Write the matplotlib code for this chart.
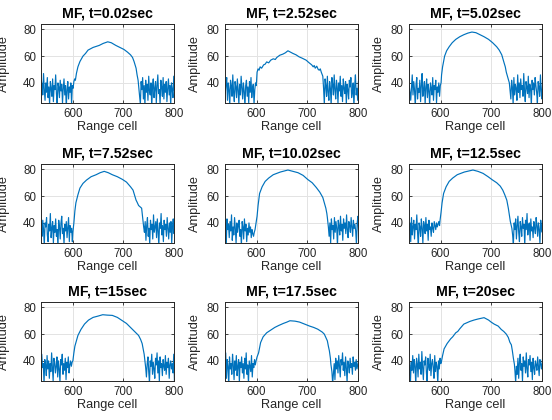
import numpy as np
import matplotlib
matplotlib.use("Agg")
import matplotlib.pyplot as plt

plt.rcParams['font.family'] = ['Liberation Sans', 'DejaVu Sans']

times = ["0.02", "2.52", "5.02", "7.52", "10.02", "12.5", "15", "17.5", "20"]

# main lobe (range cell, amplitude)
lobe_x = [
    [605, 607, 610, 614, 620, 625, 630, 640, 652, 660, 669, 676, 685, 693, 701, 708, 714, 718, 721, 725, 727, 729],
    [601, 603, 605, 607, 610, 614, 617, 620, 624, 628, 633, 637, 640, 646, 652, 657, 662, 667, 672, 678, 684, 690, 698, 704, 709, 712, 714, 716, 719, 722, 724, 726, 728, 731],
    [601, 602, 604, 606, 608, 612, 617, 623, 630, 638, 646, 654, 662, 670, 678, 686, 695, 703, 711, 716, 721, 724, 726, 728, 730, 733, 736],
    [599, 600, 602, 604, 606, 610, 614, 620, 627, 636, 646, 654, 662, 670, 678, 688, 698, 706, 714, 719, 723, 725, 727, 730, 733, 736, 738, 740],
    [597, 599, 601, 603, 606, 611, 617, 624, 633, 647, 662, 672, 682, 692, 701, 710, 718, 725, 731, 734, 737, 739, 740, 742],
    [598, 599, 601, 603, 606, 611, 617, 624, 633, 647, 664, 674, 684, 694, 703, 711, 718, 723, 727, 731, 734, 736, 738, 741],
    [600, 602, 604, 607, 610, 616, 623, 631, 640, 650, 659, 668, 678, 688, 698, 706, 714, 722, 730, 734, 737, 739, 741, 744],
    [599, 601, 604, 606, 608, 613, 620, 628, 636, 644, 653, 660, 666, 676, 685, 695, 705, 713, 721, 726, 730, 734, 737, 740, 742, 744, 746, 747, 749],
    [602, 604, 607, 610, 613, 617, 620, 624, 630, 634, 638, 646, 652, 658, 666, 674, 682, 686, 690, 695, 700, 706, 714, 720, 725, 730, 734, 737, 740, 742, 744, 746, 747],
]
lobe_y = [
    [42, 47, 52, 56, 60, 62, 64.5, 66.5, 68, 69.5, 70.7, 70, 68, 66.5, 65, 63, 61, 59, 56, 51, 46, 42],
    [48, 50.5, 49.5, 52, 51, 53.5, 54, 55.7, 55, 57, 58, 57.5, 59, 60.7, 61.5, 62.5, 64, 63, 62, 61, 59.5, 58.5, 57, 55, 53.5, 52, 53, 51, 52.5, 50, 49.5, 50.5, 48, 45],
    [40, 46, 52, 56, 60, 64, 67, 70, 72.5, 74.5, 76, 77.2, 78, 77.5, 76, 74.5, 72.5, 70, 67, 64.5, 61, 57, 54.5, 52, 48, 44, 40],
    [26, 33, 40, 49, 55, 61, 66, 69.5, 72, 74.5, 76, 77.5, 78.5, 77.5, 76, 74.5, 72.5, 70.5, 67, 64.5, 59.5, 57, 55.5, 53, 52, 51, 44, 37],
    [35, 40, 45, 53, 62, 67, 71, 73.5, 76, 78, 79.5, 78.5, 77.5, 75.5, 72.5, 70, 66.5, 63, 59, 55, 51, 47, 44, 37],
    [38, 42, 48, 55, 62, 67, 71, 73.5, 76, 78, 79.5, 78.5, 77, 74.5, 72, 70, 67.5, 64.5, 61, 57, 51, 46, 41, 36],
    [40, 46, 51, 55, 59, 63.5, 67.5, 70.5, 72.5, 73.5, 74.5, 74.2, 74, 72.5, 70, 68, 65, 62, 59, 56, 53, 49, 45, 35],
    [40, 43, 46, 50, 53.7, 58, 61, 63, 65, 66.5, 68, 69, 70, 69.7, 69, 67.5, 66, 65, 63.7, 62.5, 61.5, 60, 57.5, 55, 51, 47.5, 42, 37.5, 32],
    [40, 44, 49, 51, 53, 55, 56.5, 58, 61, 62, 64, 67.5, 68.5, 69.5, 70.5, 71.3, 72, 72.3, 71.5, 70.5, 69, 67.5, 66, 63.5, 62, 60, 57.5, 54, 52, 47.5, 42, 37.5, 33],
]

# clutter either side of the lobe, one value every 1.5 cells
# left lists end at the lobe start, right lists start after the lobe end
noise_step = 1.5
noise_left = [
    [38, 27, 42, 33, 24, 40, 36, 29, 43, 31, 22, 39, 35, 41, 26, 37, 44, 30, 34, 23, 41, 38, 28, 45,
     33, 36, 25, 42, 39, 31, 47, 35, 27, 40, 33, 44, 29, 37, 24, 41, 36, 30, 43, 26, 38, 35, 46, 32,
     23, 40, 37, 29, 42, 34, 39, 25, 36, 43, 31, 38, 22, 35, 41, 28, 37, 33, 40, 24, 38, 36, 41, 43],
    [33, 44, 27, 38, 41, 23, 46, 35, 30, 42, 37, 26, 45, 31, 39, 24, 43, 36, 28, 47, 34, 40, 22, 38,
     33, 29, 37, 41, 25, 36, 32, 39, 44, 27, 40, 35, 23, 42, 38, 30, 46, 33, 26, 41, 37, 29, 43, 35,
     24, 39, 31, 45, 36, 28, 40, 34, 22, 38, 42, 30, 37, 25, 41, 33, 44, 29, 36, 39, 24, 35, 40, 38],
    [30, 39, 24, 41, 35, 28, 43, 33, 40, 23, 37, 42, 29, 36, 45, 31, 40, 26, 47, 35, 38, 29, 44, 32,
     24, 40, 36, 30, 42, 25, 38, 33, 27, 37, 46, 31, 41, 35, 22, 39, 44, 28, 36, 33, 42, 26, 38, 47,
     30, 35, 41, 24, 37, 43, 29, 39, 34, 23, 40, 36, 31, 44, 27, 38, 35, 42, 25, 37, 33, 40, 30, 38],
    [27, 40, 34, 43, 24, 38, 31, 42, 36, 22, 41, 33, 39, 28, 44, 35, 30, 37, 43, 26, 39, 33, 46, 29,
     37, 41, 32, 24, 38, 45, 28, 36, 30, 42, 35, 23, 40, 37, 44, 31, 26, 39, 34, 47, 29, 36, 41, 25,
     38, 33, 43, 30, 35, 22, 42, 37, 28, 40, 45, 32, 36, 24, 39, 34, 41, 29, 37, 44, 26, 38, 33, 36],
    [40, 31, 44, 36, 23, 42, 38, 33, 45, 29, 41, 35, 39, 43, 27, 37, 42, 34, 40, 24, 38, 31, 36, 42,
     33, 26, 37, 30, 45, 28, 36, 32, 38, 40, 22, 43, 35, 39, 29, 41, 34, 46, 27, 37, 31, 44, 36, 25,
     40, 33, 38, 42, 30, 35, 23, 41, 37, 28, 43, 34, 39, 26, 36, 31, 40, 33, 37, 29, 35, 32, 30, 33],
    [41, 35, 27, 43, 37, 32, 44, 29, 40, 36, 23, 42, 38, 34, 45, 30, 39, 27, 41, 36, 24, 40, 33, 43,
     37, 29, 41, 35, 38, 42, 36, 39, 34, 40, 26, 44, 31, 37, 42, 28, 39, 35, 46, 33, 22, 40, 37, 30,
     43, 36, 25, 41, 38, 32, 44, 34, 39, 27, 42, 35, 37, 30, 40, 36, 33, 41, 38, 35, 40, 37, 39, 41],
    [36, 42, 28, 45, 33, 39, 24, 41, 37, 30, 46, 34, 27, 40, 43, 32, 38, 22, 41, 35, 29, 44, 37, 31,
     39, 26, 42, 36, 33, 40, 30, 45, 35, 38, 23, 41, 37, 29, 44, 34, 40, 27, 38, 32, 46, 35, 25, 42,
     39, 31, 36, 43, 28, 40, 34, 24, 41, 37, 45, 30, 38, 33, 42, 26, 39, 35, 43, 31, 37, 40, 36, 39],
    [30, 44, 36, 24, 42, 38, 33, 45, 28, 40, 35, 23, 41, 37, 30, 44, 34, 25, 39, 42, 31, 36, 26, 43,
     37, 33, 40, 29, 38, 35, 31, 39, 46, 27, 41, 36, 22, 43, 34, 38, 30, 45, 37, 26, 40, 33, 44, 29,
     36, 41, 24, 39, 35, 43, 31, 38, 27, 42, 34, 46, 30, 37, 23, 40, 36, 32, 44, 28, 38, 35, 41, 37],
    [38, 29, 43, 35, 24, 41, 37, 31, 44, 26, 39, 34, 42, 23, 37, 40, 30, 45, 35, 27, 41, 38, 32, 46,
     36, 24, 40, 34, 43, 29, 37, 25, 39, 33, 44, 31, 41, 36, 22, 42, 38, 28, 45, 34, 39, 30, 47, 35,
     26, 40, 37, 43, 31, 24, 42, 36, 33, 45, 29, 38, 41, 35, 27, 44, 32, 39, 36, 23, 40, 34, 42, 38],
]
noise_right = [
    [36, 30, 24, 41, 35, 44, 28, 38, 23, 42, 33, 39, 27, 45, 34, 31, 40, 22, 37, 43, 29, 36, 41, 25,
     38, 46, 32, 35, 24, 42, 37, 30, 44, 28, 39, 33, 41, 26, 36, 43, 31, 38, 23, 40, 35, 29, 45, 34,
     37, 27, 42, 39, 32, 24, 41, 36, 30, 44, 33, 38, 25, 40, 35, 43, 29, 37, 31, 42, 26, 39, 34, 40],
    [36, 24, 43, 38, 30, 45, 33, 27, 41, 36, 23, 44, 39, 31, 46, 35, 28, 42, 37, 25, 40, 34, 45, 30,
     38, 26, 43, 36, 32, 41, 24, 39, 35, 28, 42, 37, 44, 29, 33, 40, 22, 38, 46, 31, 36, 27, 41, 35,
     30, 43, 37, 24, 39, 34, 45, 28, 36, 41, 32, 26, 40, 35, 44, 30, 38, 23, 42, 36, 29, 39, 33, 41],
    [34, 28, 42, 37, 24, 44, 31, 39, 36, 27, 46, 33, 40, 29, 43, 35, 38, 30, 47, 34, 26, 41, 37, 32,
     45, 29, 39, 36, 23, 42, 35, 40, 31, 44, 38, 33, 25, 41, 37, 30, 46, 34, 28, 43, 36, 39, 24, 42,
     35, 31, 45, 38, 27, 40, 33, 44, 29, 37, 41, 22, 39, 34, 43, 30, 36, 26, 42, 38, 32, 45, 35, 40],
    [33, 41, 27, 38, 44, 30, 36, 24, 42, 35, 39, 28, 46, 33, 37, 41, 29, 43, 34, 23, 40, 36, 47, 31,
     38, 26, 42, 35, 39, 30, 44, 36, 28, 40, 33, 41, 25, 37, 43, 32, 38, 22, 45, 34, 30, 41, 36, 27,
     42, 39, 33, 46, 29, 37, 24, 40, 35, 43, 31, 38, 26, 44, 34, 39, 30, 42, 36, 23, 41, 37, 32, 45],
    [30, 40, 25, 43, 35, 38, 28, 44, 33, 41, 36, 23, 42, 38, 31, 45, 34, 39, 27, 43, 36, 40, 32, 46,
     35, 29, 41, 38, 33, 44, 37, 30, 42, 36, 39, 34, 24, 40, 45, 31, 37, 28, 43, 35, 41, 26, 38, 33,
     46, 30, 39, 36, 22, 42, 34, 40, 29, 44, 37, 32, 41, 25, 38, 35, 43, 31, 36, 40, 27, 39, 34, 42],
    [31, 24, 40, 35, 43, 28, 38, 45, 33, 26, 41, 37, 30, 44, 36, 39, 23, 42, 35, 47, 31, 38, 40, 27,
     43, 34, 37, 29, 41, 36, 32, 44, 38, 30, 40, 35, 25, 42, 37, 33, 46, 29, 39, 36, 22, 41, 34, 43,
     38, 28, 45, 35, 31, 40, 37, 24, 42, 33, 39, 44, 30, 36, 41, 27, 38, 34, 43, 32, 40, 26, 37, 42],
    [28, 38, 43, 32, 24, 40, 36, 45, 30, 39, 34, 27, 42, 37, 46, 31, 40, 25, 43, 35, 38, 29, 41, 36,
     33, 44, 30, 39, 35, 42, 27, 37, 40, 34, 38, 31, 45, 23, 41, 36, 29, 43, 33, 39, 26, 44, 37, 32,
     40, 35, 28, 42, 38, 24, 46, 34, 30, 41, 36, 43, 27, 39, 33, 45, 31, 37, 22, 40, 35, 42, 29, 38],
    [23, 30, 38, 26, 42, 34, 40, 31, 44, 36, 28, 41, 37, 46, 33, 39, 29, 43, 35, 24, 40, 37, 31, 42,
     35, 38, 30, 43, 36, 39, 33, 41, 34, 37, 40, 36, 27, 44, 32, 39, 25, 42, 38, 30, 45, 35, 41, 28,
     36, 43, 33, 22, 40, 37, 46, 31, 39, 34, 42, 29, 38, 26, 44, 35, 40, 32, 37, 43, 30, 41, 36, 39],
    [24, 36, 30, 42, 27, 39, 45, 33, 38, 25, 43, 36, 40, 31, 46, 34, 28, 41, 37, 44, 32, 39, 26, 42,
     35, 30, 40, 37, 33, 43, 36, 29, 41, 38, 34, 39, 45, 23, 42, 35, 31, 44, 37, 27, 40, 33, 46, 30,
     38, 41, 25, 43, 36, 32, 39, 45, 28, 37, 42, 34, 31, 40, 35, 24, 44, 38, 30, 41, 36, 43, 33, 40],
]

xticks = [600, 700, 800]
yticks = [40, 60, 80]

col_left = [41, 224.7, 408.7]
row_top = [24, 164, 302]
ax_w, ax_h = 133, 79
W, H = 552, 420

fig = plt.figure(figsize=(W / 100, H / 100), dpi=100)
tc = "#262626"

for k in range(9):
    r, c = k // 3, k % 3
    ax = fig.add_axes([col_left[c] / W, (H - row_top[r] - ax_h) / H, ax_w / W, ax_h / H])
    lx = lobe_x[k]
    nl = noise_left[k]
    nr = noise_right[k]
    xl = [lx[0] - noise_step * (len(nl) - i) for i in range(len(nl))]
    xr = [lx[-1] + noise_step * (i + 1) for i in range(len(nr))]
    xs = np.array(xl + lx + xr)
    ys = np.array(nl + lobe_y[k] + nr)
    ax.plot(xs, ys, color="#0072BD", lw=0.85)
    ax.set_xlim(537, 800)
    ax.set_ylim(25, 84)
    ax.set_xticks(xticks)
    ax.set_yticks(yticks)
    ax.grid(True, color="#e3e3e3", lw=0.7)
    ax.set_axisbelow(True)
    ax.tick_params(direction="in", length=2.5, width=0.6, labelsize=8.3,
                   colors=tc, top=True, right=True, pad=3.5)
    for s in ax.spines.values():
        s.set_color(tc)
        s.set_linewidth(0.7)
    ax.set_title("MF, t=" + times[k] + "sec", fontsize=10.2, fontweight="bold", pad=4.5)
    ax.set_xlabel("Range cell", fontsize=9.2, color=tc, labelpad=1)
    ax.set_ylabel("Amplitude", fontsize=9.2, color=tc)
    if c == 0:
        ax.yaxis.set_label_coords(-0.237, 0.5)
    else:
        ax.yaxis.set_label_coords(-0.18, 0.5)

fig.savefig("out.png", dpi=100)
